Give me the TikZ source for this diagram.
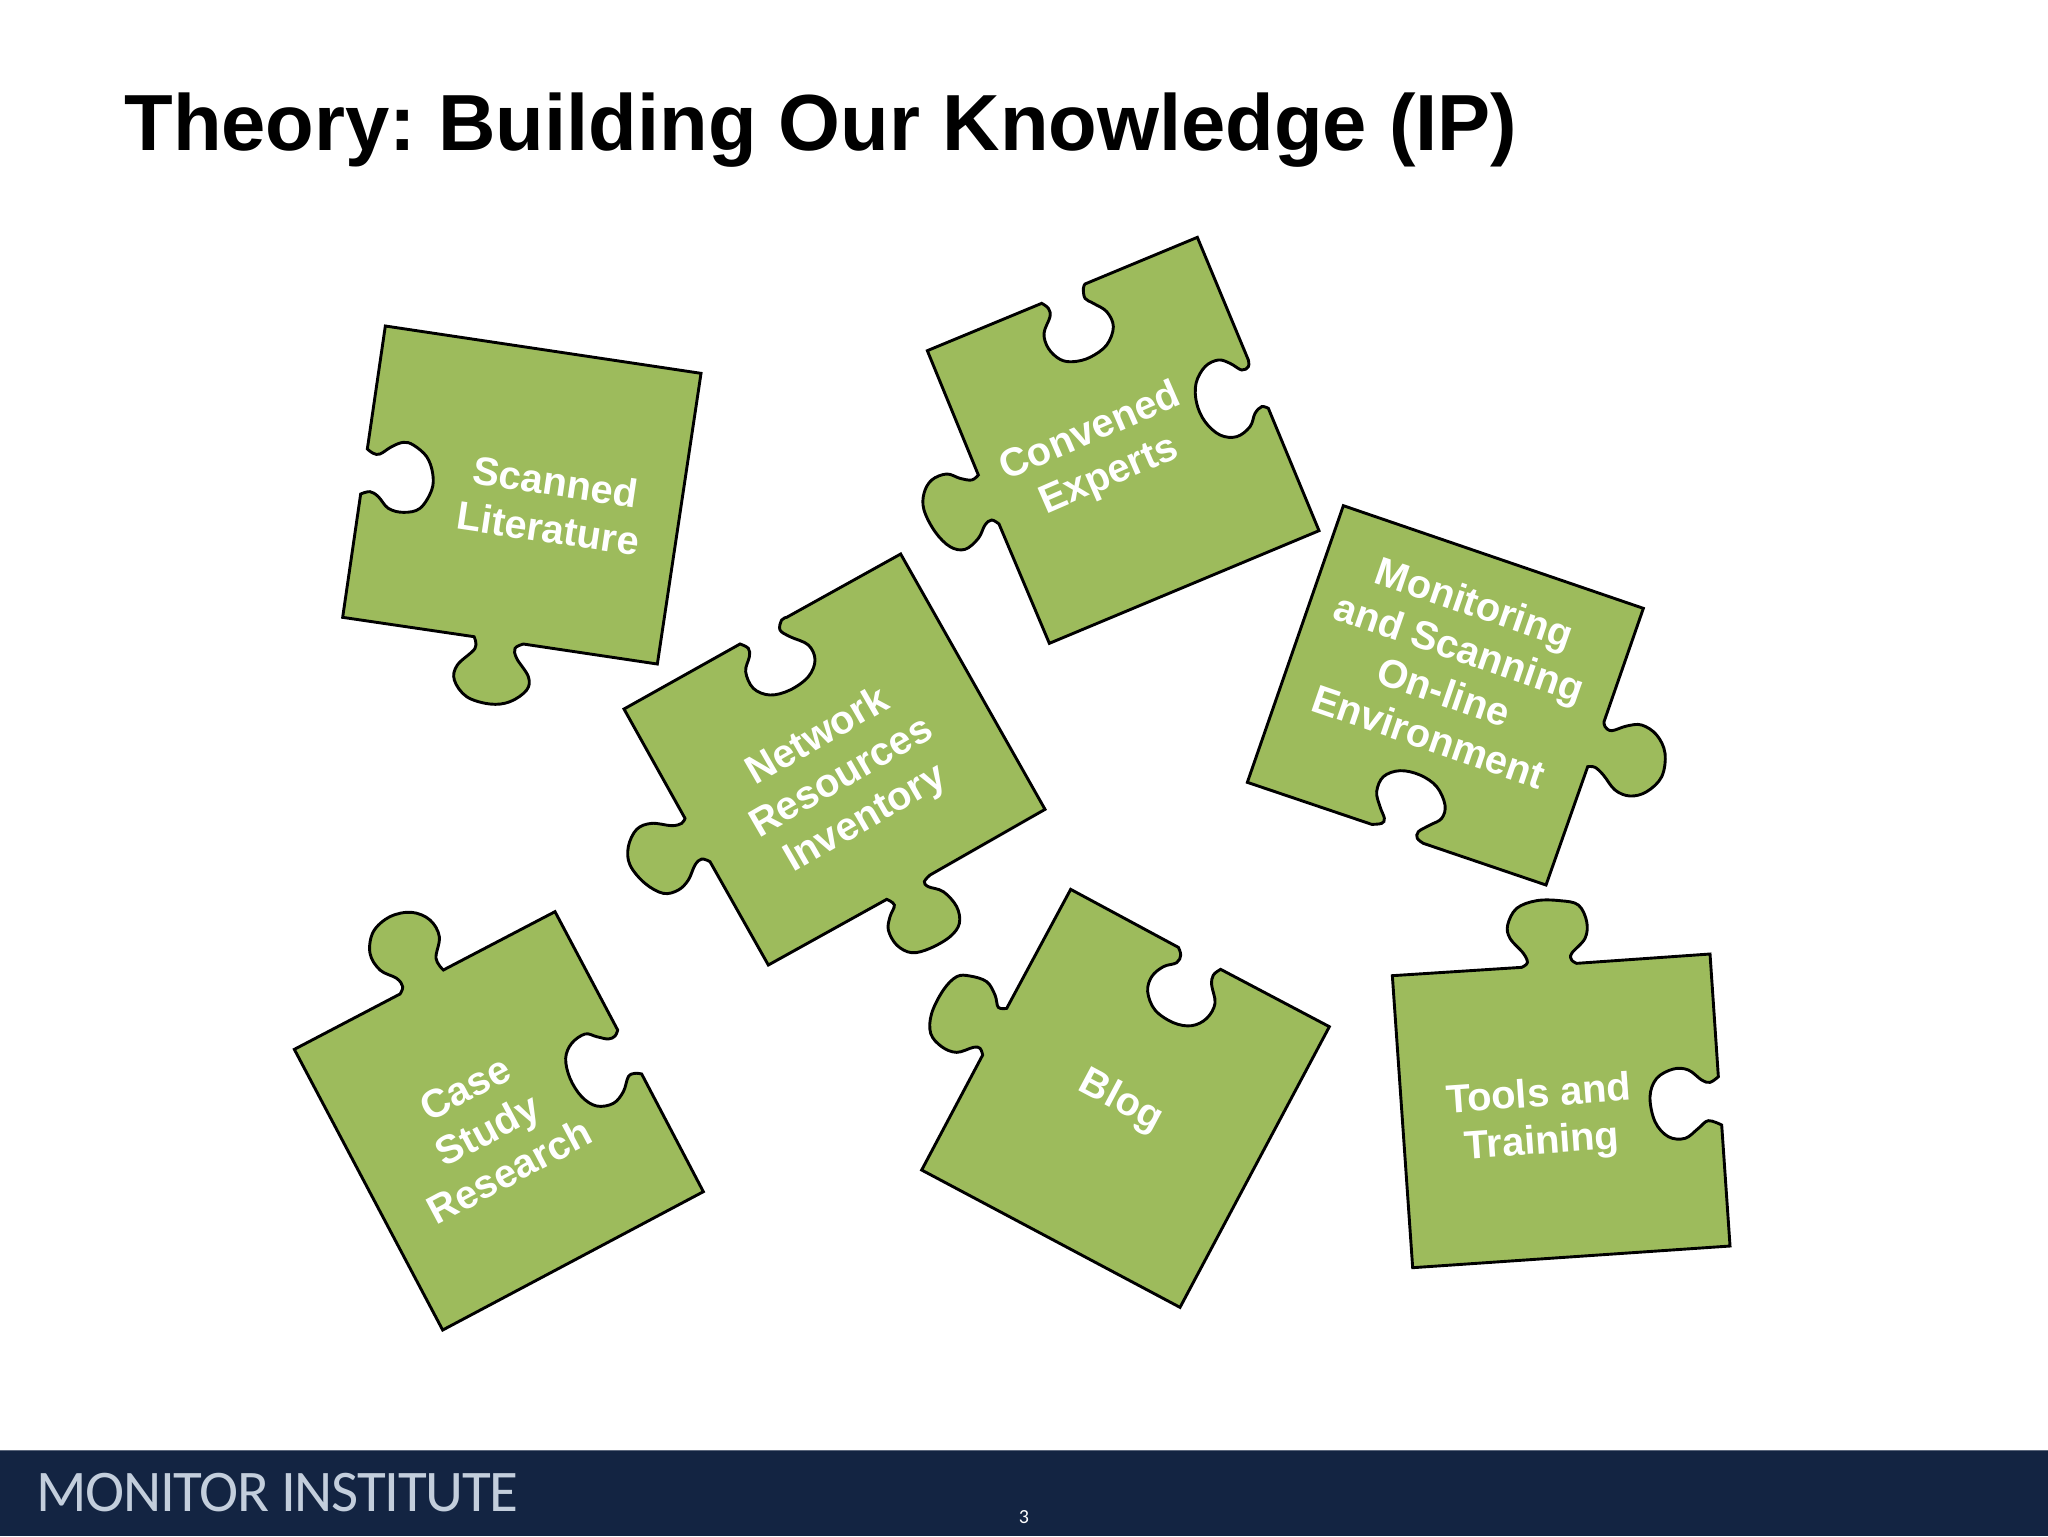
\documentclass[tikz,border=0pt]{standalone}
\usepackage{fontspec}
\setmainfont{Liberation Sans}
\newfontfamily\footfont[LetterSpace=-2.2]{Carlito}
\definecolor{pieceGreen}{HTML}{9DBB5C}
\definecolor{footNavy}{HTML}{132442}
\definecolor{footText}{HTML}{C3CEDC}
\tikzset{
  zoomframe/.style 2 args={shift={(#1*0.5pt,-#2*0.5pt)},x=0.16667pt,y=-0.16667pt},
  piece/.style={draw=black,fill=pieceGreen,line width=1.45pt,line join=miter},
  knob/.style={smooth,tension=0.6},
  piecelabel/.style={text=white,font=\fontsize{19.9}{23.6}\selectfont\bfseries,align=center,inner sep=0pt}
}
\begin{document}
\frenchspacing
\begin{tikzpicture}
\useasboundingbox (0pt,0pt) rectangle (1024pt,-768pt);
\fill[white] (0pt,0pt) rectangle (1024pt,-768pt);
\node[anchor=base west,inner sep=0pt,font=\fontsize{39.8}{44}\selectfont\bfseries] (title) at (62pt,-75pt) {Theory: Building Our Knowledge (IP)};

\begin{scope}[zoomframe={320}{300}]
\draw[piece] (196,78) -- (1143,220) -- (1012,1092) -- plot[knob] coordinates {(610,1032) (585,1045) (590,1075) (625,1130) (620,1170) (570,1205) (510,1212) (440,1190) (403,1140) (412,1095) (465,1045) (462,1010)} -- (68,952) -- plot[knob] coordinates {(122,582) (150,575) (175,590) (205,625) (250,637) (300,625) (335,570) (338,520) (320,470) (280,435) (250,427) (215,440) (180,462) (160,460) (142,447)} -- cycle;
\node[piecelabel,rotate=-8.5] (scanned) at (696,615) {Scanned\\Literature};
\end{scope}

\begin{scope}[zoomframe={900}{220}]
\draw[piece] (892,52) -- plot[knob] coordinates {(1045,420) (1045,440) (1025,450) (990,430) (955,420) (915,440) (888,490) (890,550) (915,605) (960,645) (1010,650) (1050,620) (1065,580) (1085,560) (1105,565)} -- (1257,932) -- (448,1270) -- plot[knob] coordinates {(297,912) (275,900) (255,915) (235,955) (195,988) (150,980) (105,935) (72,870) (72,820) (95,780) (140,762) (180,775) (215,780) (235,765)} -- (82,392) -- plot[knob] coordinates {(425,250) (445,265) (450,290) (432,340) (445,385) (480,418) (520,425) (570,412) (620,375) (640,320) (620,275) (580,250) (555,235) (550,205) (555,192)} -- cycle;
\node[piecelabel,rotate=23.5] (convened) at (600,703) {Convened\\Experts};
\end{scope}

\begin{scope}[zoomframe={600}{540}]
\draw[piece] (902,42) -- (1335,808) -- plot[knob] coordinates {(990,1005) (973,1025) (985,1040) (1030,1055) (1070,1100) (1078,1150) (1050,1190) (990,1225) (935,1238) (890,1215) (865,1170) (870,1130) (883,1095) (860,1078)} -- (505,1275) -- plot[knob] coordinates {(330,965) (305,957) (285,975) (265,1020) (235,1050) (190,1060) (135,1030) (90,975) (85,920) (110,868) (155,850) (215,857) (245,850) (255,835)} -- (72,507) -- plot[knob] coordinates {(420,312) (445,325) (448,350) (437,395) (460,445) (510,465) (570,450) (625,410) (645,360) (625,315) (570,290) (540,270) (545,240) (560,232)} -- cycle;
\node[piecelabel,rotate=30] (network) at (726,715) {Network\\Resources\\Inventory};
\end{scope}

\begin{scope}[zoomframe={1230}{490}]
\draw[piece] (340,47) -- (1240,355) -- plot[knob] coordinates {(1122,695) (1125,710) (1145,722) (1190,708) (1235,705) (1280,735) (1305,790) (1295,860) (1250,905) (1200,918) (1155,900) (1120,855) (1095,832) (1073,830)} -- (948,1185) -- plot[knob] coordinates {(580,1060) (562,1045) (565,1025) (600,1005) (635,985) (645,945) (620,890) (570,855) (510,842) (460,860) (440,905) (450,950) (463,985) (455,1000) (425,1003)} -- (52,877) -- cycle;
\node[piecelabel,rotate=-19] (monitoring) at (665,538) {Monitoring\\and Scanning\\On-line\\Environment};
\end{scope}

\begin{scope}[zoomframe={280}{890}]
\draw[piece] (825,65) -- plot[knob] coordinates {(1013,420) (1005,438) (985,447) (950,440) (915,432) (875,460) (857,505) (870,565) (905,620) (950,648) (1000,640) (1030,605) (1045,560) (1065,550) (1085,552)} -- (1270,905) -- (488,1320) -- (43,478) -- plot[knob] coordinates {(360,312) (368,290) (350,265) (300,240) (270,190) (280,125) (330,80) (395,67) (450,90) (478,140) (468,205) (490,240)} -- cycle;
\node[piecelabel,rotate=28] (casestudy) at (622,719) {Case\\Study\\Research};
\end{scope}

\begin{scope}[zoomframe={900}{870}]
\draw[piece] (512,58) -- plot[knob] coordinates {(835,232) (842,255) (830,278) (790,290) (755,320) (743,365) (765,420) (820,458) (875,467) (920,445) (945,400) (935,345) (940,315) (962,298)} -- (1288,470) -- (840,1312) -- (65,900) -- plot[knob] coordinates {(248,555) (240,535) (220,532) (170,547) (125,530) (92,490) (95,430) (130,360) (170,320) (210,318) (260,335) (285,375) (295,412) (320,415)} -- cycle;
\node[piecelabel,rotate=-28] (blog) at (662,695) {Blog};
\end{scope}

\begin{scope}[zoomframe={1370}{880}]
\draw[piece] (67,287) -- plot[knob] coordinates {(455,262) (472,248) (460,220) (420,175) (413,135) (440,85) (500,62) (570,62) (625,75) (650,125) (645,175) (605,220) (605,240) (620,250)} -- (1020,222) -- plot[knob] coordinates {(1045,590) (1020,607) (995,600) (955,570) (910,567) (860,595) (840,650) (855,725) (895,770) (945,775) (985,745) (1015,722) (1055,735)} -- (1080,1098) -- (128,1163) -- cycle;
\node[piecelabel,rotate=4] (tools) at (511,720) {Tools and\\Training};
\end{scope}

\fill[footNavy] (0pt,-725pt) rectangle (1024pt,-768pt);
\draw[line width=0.5pt,color=footNavy!70!white] (0pt,-725pt) -- (1024pt,-725pt);
\node[anchor=base west,inner sep=0pt,text=footText,font=\footfont\fontsize{29.5}{32}\selectfont] (brand) at (18pt,-755.5pt) {MONITOR INSTITUTE};
\node[inner sep=0pt,text=white,font=\footfont\fontsize{10}{12}\selectfont] (pagenum) at (512pt,-758.5pt) {3};
\end{tikzpicture}
\end{document}
